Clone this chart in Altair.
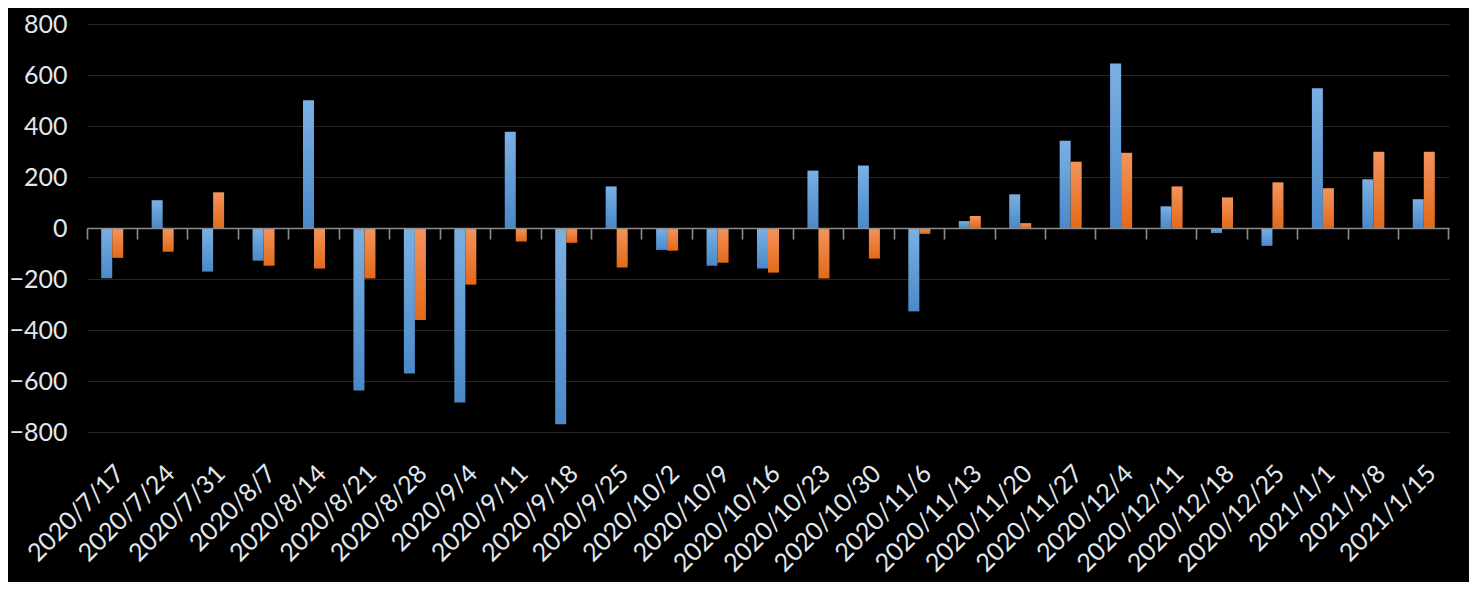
import altair as alt
import pandas as pd

dates = ["2020/7/17", "2020/7/24", "2020/7/31", "2020/8/7", "2020/8/14", "2020/8/21",
         "2020/8/28", "2020/9/4", "2020/9/11", "2020/9/18", "2020/9/25", "2020/10/2",
         "2020/10/9", "2020/10/16", "2020/10/23", "2020/10/30", "2020/11/6", "2020/11/13",
         "2020/11/20", "2020/11/27", "2020/12/4", "2020/12/11", "2020/12/18", "2020/12/25",
         "2021/1/1", "2021/1/8", "2021/1/15"]
blue_values = [-197, 109, -171, -128, 501, -637, -571, -684, 377, -770, 163, -86,
               -148, -159, 225, 245, -327, 27, 132, 342, 645, 85, -20, -70,
               548, 191, 113]
orange_values = [-117, -93, 140, -148, -159, -198, -361, -222, -53, -58, -155, -89,
                 -136, -175, -198, -120, -23, 47, 19, 260, 295, 163, 120, 179,
                 156, 299, 299]
series_names = ["A", "B"]
y_ticks = [-800, -600, -400, -200, 0, 200, 400, 600, 800]

rows = []
for d, b, o in zip(dates, blue_values, orange_values):
    rows.append({"date": d, "series": series_names[0], "value": b})
    rows.append({"date": d, "series": series_names[1], "value": o})
df = pd.DataFrame(rows)

FONT = "Lato"
LABEL_COLOR = "#e1e7ee"
PLOT_H = 408

x_scale = alt.Scale(domain=dates, paddingInner=0, paddingOuter=0)
# two empty slots on either side keep the pair of bars narrow and centred
xo_scale = alt.Scale(domain=["_l"] + series_names + ["_r"], paddingInner=0, paddingOuter=0.29)
y_scale = alt.Scale(domain=[-800, 800], nice=False)

blue_grad = alt.LinearGradient(
    gradient="linear",
    stops=[alt.GradientStop(color="#7bb0e3", offset=0),
           alt.GradientStop(color="#4a89c9", offset=1)],
    x1=0, x2=0, y1=0, y2=1)
orange_grad = alt.LinearGradient(
    gradient="linear",
    stops=[alt.GradientStop(color="#f3945c", offset=0),
           alt.GradientStop(color="#e3691a", offset=1)],
    x1=0, x2=0, y1=0, y2=1)

y_enc = alt.Y("value:Q", scale=y_scale, title=None,
              axis=alt.Axis(values=y_ticks, grid=True, gridColor="#262626", gridWidth=1.2,
                            domain=False, ticks=False, labelPadding=20,
                            labelFont=FONT, labelFontSize=25, labelColor=LABEL_COLOR))

base = alt.Chart(df)

bars_a = base.transform_filter(alt.datum.series == series_names[0]).mark_bar(fill=blue_grad).encode(
    x=alt.X("date:N", scale=x_scale, sort=None, title=None,
            axis=alt.Axis(orient="bottom", labelAngle=-45, labelAlign="right",
                          labelBaseline="middle", labelPadding=37, labelOffset=8,
                          ticks=False, domain=False,
                          labelFont=FONT, labelFontSize=25, labelColor=LABEL_COLOR,
                          labelOverlap=False, grid=False)),
    xOffset=alt.XOffset("series:N", scale=xo_scale),
    y=y_enc,
)

bars_b = base.transform_filter(alt.datum.series == series_names[1]).mark_bar(fill=orange_grad).encode(
    x=alt.X("date:N", scale=x_scale, sort=None, title=None,
            axis=alt.Axis(orient="bottom", offset=-PLOT_H / 2, labels=False, grid=False,
                          domain=True, domainColor="#8c8c8c", domainWidth=1.6,
                          ticks=True, tickColor="#8c8c8c", tickWidth=1.6, tickSize=11,
                          bandPosition=1, tickExtra=True, zindex=1)),
    xOffset=alt.XOffset("series:N", scale=xo_scale),
    y=y_enc,
)

chart = alt.layer(bars_a, bars_b).resolve_axis(x="independent").properties(
    width=1362, height=PLOT_H,
    padding={"left": 79, "top": 16, "right": 20, "bottom": 150},
    autosize=alt.AutoSizeParams(type="none"),
    background="#000000",
).configure_view(stroke=None)

chart.save("out.html", embed_options={"renderer": "svg", "actions": False})
